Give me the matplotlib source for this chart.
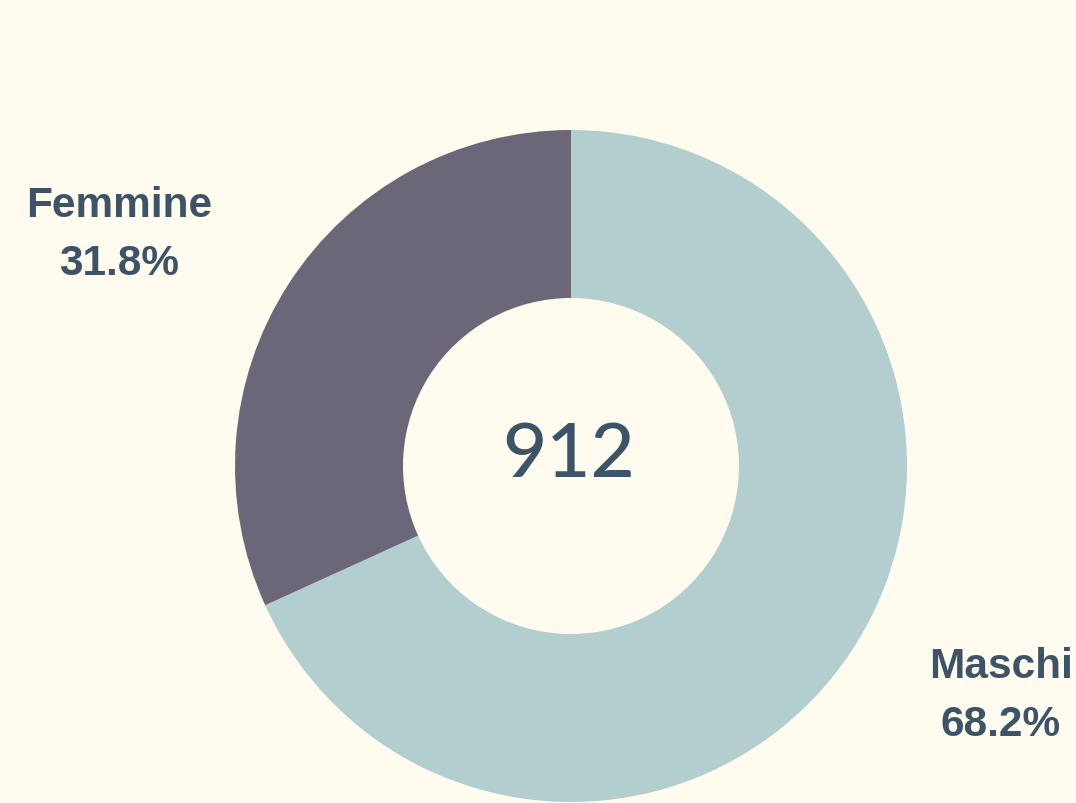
import matplotlib.pyplot as plt

labels = ["Maschi", "Femmine"]
shares = [68.2, 31.8]
total = 912
colors = ["#B3CECF", "#6C6679"]

bg = "#FFFCEF"
txt = "#3D5468"

fig = plt.figure(figsize=(10.76, 8.04), dpi=100, facecolor=bg)
ax = fig.add_axes([0, 0, 1, 1])
ax.set_facecolor(bg)

ax.pie(shares, colors=colors, center=(571, 337), radius=336,
       startangle=90, counterclock=False,
       wedgeprops=dict(width=168, linewidth=0), frame=True)
ax.set_xlim(0, 1076)
ax.set_ylim(0, 804)
ax.set_aspect("equal")
ax.axis("off")

ax.text(569, 348, str(total), ha="center", va="center", fontsize=55,
        family="Lato", weight="medium", color=txt)

pos = {"Maschi": (1001, 108), "Femmine": (119, 569)}
for lab, val in zip(labels, shares):
    x, y = pos[lab]
    ax.text(x, y, f"{lab}\n{val}%", ha="center", va="center", fontsize=30.5,
            family="Liberation Sans", weight="bold", color=txt,
            linespacing=1.55)

fig.savefig("out.png", dpi=100, facecolor=bg)
